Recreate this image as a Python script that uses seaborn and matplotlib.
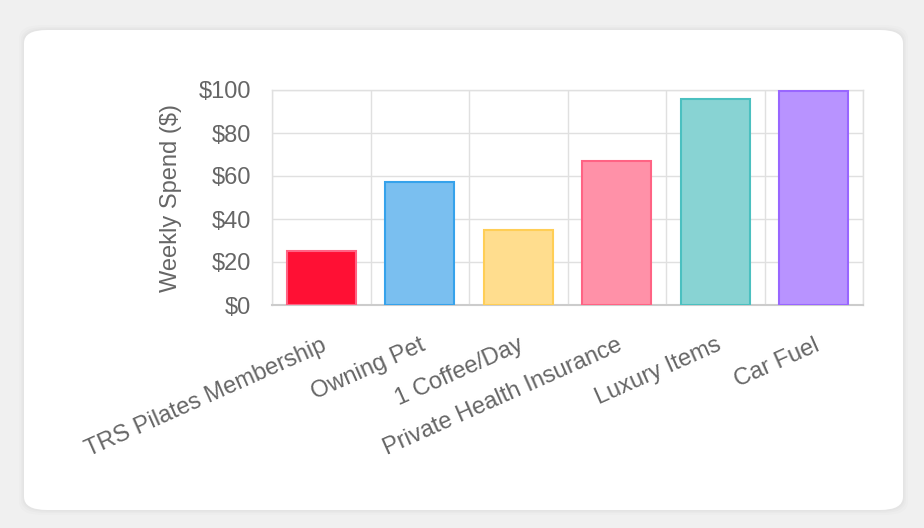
import numpy as np
import pandas as pd
import matplotlib.pyplot as plt
import seaborn as sns
from matplotlib.patches import FancyBboxPatch
from matplotlib.ticker import FuncFormatter

# chart values
categories = ['TRS Pilates Membership', 'Owning Pet', '1 Coffee/Day',
              'Private Health Insurance', 'Luxury Items', 'Car Fuel']
weekly_spend = [25, 57, 35, 67, 96, 99.5]
fill_colors = ['#ff1034', '#7abff0', '#ffdd8e', '#ff91a8', '#88d3d3', '#b893ff']
edge_colors = ['#ff6384', '#36a2eb', '#ffce56', '#ff6384', '#4bc0c0', '#9966ff']
y_ticks = [0, 20, 40, 60, 80, 100]

df = pd.DataFrame({'item': categories, 'spend': weekly_spend})

sns.set_style('white')
plt.rcParams['font.family'] = ['Liberation Sans', 'DejaVu Sans']

grid_col = '#e0e0e0'
text_col = '#666666'
fs = 17

fig = plt.figure(figsize=(9.24, 5.28), dpi=100)
fig.patch.set_facecolor('#f0f0f0')

# white card with rounded corners (soft shadow underneath)
for off, a in [(5, 0.012), (3, 0.015), (1.5, 0.02)]:
    shadow = FancyBboxPatch((24 / 924 - off / 924, 18 / 528 - off / 528),
                            879 / 924 + 2 * off / 924, 480 / 528 + 2 * off / 528,
                            boxstyle='round,pad=0,rounding_size=0.025',
                            transform=fig.transFigure, facecolor='black',
                            edgecolor='none', alpha=a, zorder=0)
    fig.patches.append(shadow)
card = FancyBboxPatch((24 / 924, 18 / 528), 879 / 924, 480 / 528,
                      boxstyle='round,pad=0,rounding_size=0.025',
                      transform=fig.transFigure, facecolor='white',
                      edgecolor='none', zorder=1)
fig.patches.append(card)

ax = fig.add_axes([272 / 924, 1 - 305 / 528, 591 / 924, 215 / 528])
ax.set_zorder(5)
ax.set_facecolor('none')

sns.barplot(data=df, x='item', y='spend', hue='item', palette=fill_colors,
            saturation=1, width=0.7, legend=False, ax=ax, zorder=3)
for patch, ec in zip(ax.patches, edge_colors):
    patch.set_edgecolor(ec)
    patch.set_linewidth(1.5)

ax.set_xlim(-0.5, len(categories) - 0.5)
ax.set_ylim(0, 100)

# y axis
ax.set_yticks(y_ticks)
ax.yaxis.set_major_formatter(FuncFormatter(lambda v, p: f'${int(v)}'))
ax.tick_params(axis='y', length=11, color=grid_col, pad=4,
               labelsize=fs, labelcolor=text_col)
ax.grid(axis='y', color=grid_col, linewidth=1, zorder=0)

# x axis: gridlines between categories, labels under bars
ax.set_xticks(np.arange(-0.5, len(categories), 1.0), minor=True)
ax.grid(axis='x', which='minor', color=grid_col, linewidth=1, zorder=0)
ax.tick_params(axis='x', which='minor', length=12, color=grid_col)
ax.tick_params(axis='x', which='major', length=0, pad=21,
               labelsize=fs, labelcolor=text_col)
plt.setp(ax.get_xticklabels(), rotation=24, ha='right', rotation_mode='anchor')

for side in ['top', 'right', 'left']:
    ax.spines[side].set_color(grid_col)
    ax.spines[side].set_linewidth(1)
ax.spines['bottom'].set_color('#cccccc')
ax.spines['bottom'].set_linewidth(1.5)

ax.set_xlabel('')
ax.set_ylabel('Weekly Spend ($)', fontsize=fs, color=text_col)
ax.yaxis.set_label_coords(-0.153, 0.5)

fig.savefig('out.png', dpi=100, facecolor=fig.get_facecolor())
